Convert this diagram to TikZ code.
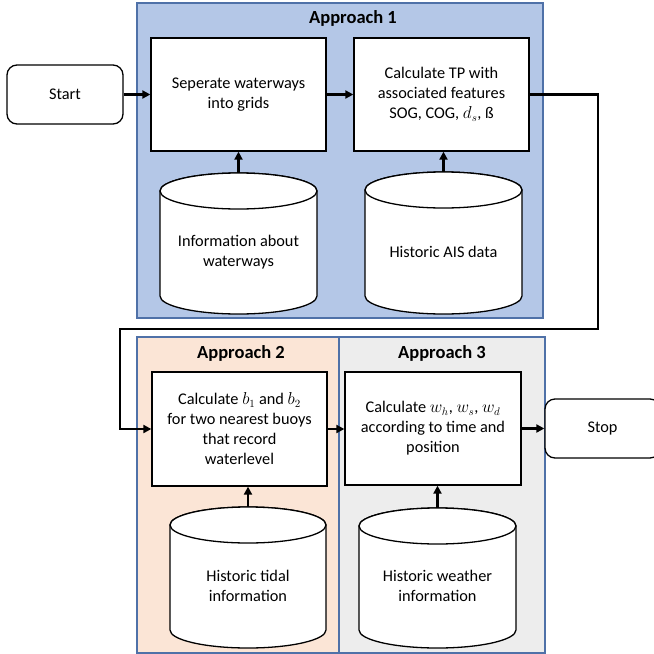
\documentclass[tikz,border=0pt]{standalone}
\usepackage{fontspec}
\setmainfont{Carlito}
\usetikzlibrary{arrows.meta}
\definecolor{aoneblue}{HTML}{B4C7E7}
\definecolor{frameblue}{HTML}{4F71A8}
\definecolor{peach}{HTML}{FBE5D6}
\definecolor{lgray}{HTML}{EDEDED}
\newcommand\dbshape[4]{%
  \pgfmathsetmacro\cxx{(#1+#2)/2}\pgfmathsetmacro\rxx{(#2-#1)/2}%
  \filldraw[cylline] (#1,#3+18) -- (#1,#4-18)
     arc[start angle=180,end angle=360,x radius=\rxx pt,y radius=18pt]
     -- (#2,#3+18)
     arc[start angle=0,end angle=180,x radius=\rxx pt,y radius=18pt] -- cycle;
  \draw[cylline] (\cxx,#3+18) ellipse[x radius=\rxx pt,y radius=18pt];
}
\begin{document}
\begin{tikzpicture}[x=1pt,y=-1pt,
  txt/.style={font=\fontsize{16.3}{20}\selectfont, align=center},
  ttl/.style={font=\fontsize{18.5}{22}\selectfont\bfseries, anchor=base, inner sep=0},
  frame/.style={draw=frameblue, line width=1.2pt},
  procbox/.style={txt, draw, line width=1.3pt, fill=white, inner sep=0,
     minimum width=175pt, minimum height=113pt},
  termbox/.style={txt, draw, line width=1.3pt, fill=white, inner sep=0,
     rounded corners=10pt, minimum width=116pt, minimum height=59pt},
  cylline/.style={draw, fill=white, line width=1.3pt},
  cylbox/.style={inner sep=0, draw=none},
  conn/.style={line width=2.3pt, -{Triangle[length=8pt,width=8pt]}},
  longconn/.style={line width=2.6pt, -{Triangle[length=8pt,width=8pt]}}]
\useasboundingbox (0,0) rectangle (654,654);
% approach frames
\draw[frame, fill=aoneblue] (137,3) rectangle (543,318);
\draw[frame, fill=peach] (137,337) rectangle (339,653);
\draw[frame, fill=lgray] (339,337) rectangle (545,653);
\node[ttl] (t1) at (353,23.5) {Approach 1};
\node[ttl] (t2) at (241,358.3) {Approach 2};
\node[ttl] (t3) at (442,358.3) {Approach 3};
% terminals
\node[termbox] (start) at (65,94.5) {Start};
\node[termbox, minimum width=115pt] (stop) at (602.5,428.5) {Stop};
% process boxes
\node[procbox] (b1) at (238.5,94.5) {Seperate waterways\\into grids};
\node[procbox] (b2) at (441.5,94.5) {Calculate TP with\\associated features\\SOG, COG, $d_s$, ß};
\node[procbox, minimum height=114pt] (b3) at (239.5,429) {Calculate $b_1$ and $b_2$\\for two nearest buoys\\that record\\waterlevel};
\node[procbox, minimum width=176pt] (b4) at (433,428.5) {Calculate $w_h$, $w_s$, $w_d$\\according to time and\\position};
% databases
\dbshape{160}{317}{173}{314}
\dbshape{365}{522}{172}{314}
\dbshape{170}{326}{507}{648}
\dbshape{359}{516}{508}{648}
\node[cylbox, minimum width=157pt, minimum height=141pt] (c1) at (238.5,243.5) {};
\node[cylbox, minimum width=157pt, minimum height=142pt] (c2) at (443.5,243) {};
\node[cylbox, minimum width=156pt, minimum height=141pt] (c3) at (248,577.5) {};
\node[cylbox, minimum width=157pt, minimum height=140pt] (c4) at (437.5,578) {};
\node[txt] (c1t) at (238.5,252) {Information about\\waterways};
\node[txt] (c2t) at (443.5,252) {Historic AIS data};
\node[txt] (c3t) at (248,586) {Historic tidal\\information};
\node[txt] (c4t) at (437.5,586) {Historic weather\\information};
% connectors
\coordinate (k1) at (598,329);
\coordinate (k2) at (120,329);
\draw[conn] (start) -- (b1);
\draw[conn] (b1) -- (b2);
\draw[longconn] (b2.east) -| (k1) -- (k2) |- (b3.west);
\draw[conn] (b3.east) -- (b4.west |- b3.east);
\draw[conn] (b4.east) -- (stop.west |- b4.east);
\draw[conn] (c1.north) -- (c1.north |- b1.south);
\draw[conn] (c2.north) -- (c2.north |- b2.south);
\draw[conn] (c3.north) -- (c3.north |- b3.south);
\draw[conn] (c4.north) -- (c4.north |- b4.south);
\end{tikzpicture}
\end{document}
